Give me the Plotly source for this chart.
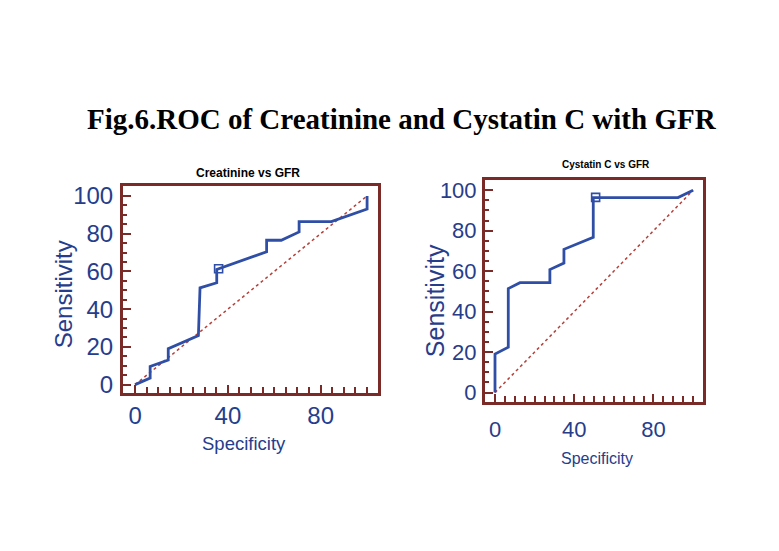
import plotly.graph_objects as go

# Creatinine vs GFR ROC curve
cr_x = [0, 6.5, 6.5, 14.3, 14.3, 27.3, 28, 35.2, 35.2, 56.7, 56.7, 63, 70.7, 70.7, 84.6, 100, 100]
cr_y = [0, 3.5, 9.6, 13, 19.1, 26, 51.3, 54, 61, 70.4, 76.5, 76.5, 80.9, 86.4, 86.4, 93, 100]
cr_opt_x = [36]
cr_opt_y = [61.4]

# Cystatin C vs GFR ROC curve
cy_x = [0, 0, 6.7, 6.7, 12.6, 27.7, 27.7, 34.8, 34.8, 49.6, 49.6, 92.4, 100]
cy_y = [0, 19, 22.4, 51.4, 54.3, 54.3, 60.8, 64, 70.8, 76.7, 96.4, 96.4, 100]
cy_opt_x = [50.8]
cy_opt_y = [96.5]

diag = [0, 100]
x_ticks = [0, 40, 80]
y_ticks = [0, 20, 40, 60, 80, 100]

BLUE = "#2f4ea6"
TXT = "#263d8c"
FRAME = "#7a2a27"
DIAG = "#b5403a"
OFF = 8               # page body margin
W, H = 779 - OFF, 551 - OFF

fig = go.Figure()
for xs, ys, ox, oy, xa, ya in [(cr_x, cr_y, cr_opt_x, cr_opt_y, "x", "y"),
                               (cy_x, cy_y, cy_opt_x, cy_opt_y, "x2", "y2")]:
    fig.add_trace(go.Scatter(x=diag, y=diag, mode="lines", xaxis=xa, yaxis=ya,
                             line=dict(color=DIAG, width=1.5, dash="dot"), showlegend=False))
    fig.add_trace(go.Scatter(x=xs, y=ys, mode="lines", xaxis=xa, yaxis=ya,
                             line=dict(color=BLUE, width=2.8), showlegend=False))
    fig.add_trace(go.Scatter(x=ox, y=oy, mode="markers", xaxis=xa, yaxis=ya,
                             marker=dict(symbol="square-open", size=8, color=BLUE,
                                         line=dict(width=1.6, color=BLUE)), showlegend=False))

def px_x(p):
    return (p - OFF) / W

def px_y(p):
    return 1 - (p - OFF) / H

def ax(domain, rng, ticks, size, standoff, minor_len):
    return dict(domain=domain, range=rng, tickvals=ticks, ticks="inside", ticklen=8,
                tickcolor=FRAME, tickwidth=1.5, showline=True, linecolor=FRAME, linewidth=3,
                mirror=True, showgrid=False, zeroline=False,
                tickfont=dict(family="Liberation Sans, Arial", size=size, color=TXT),
                ticklabelstandoff=standoff,
                minor=dict(dtick=5, ticks="inside", ticklen=minor_len, tickcolor=FRAME, tickwidth=1.5))

fig.update_layout(
    width=W, height=H, autosize=False,
    margin=dict(l=0, r=0, t=0, b=0),
    paper_bgcolor="white", plot_bgcolor="white",
    xaxis=ax([px_x(123), px_x(378)], [-5.2, 104.7], x_ticks, 24, 0, 6),
    yaxis=ax([px_y(395), px_y(185)], [-4.2, 105.2], y_ticks, 24, 2, 4),
    xaxis2=ax([px_x(485), px_x(703)], [-5.05, 105], x_ticks, 22, 5, 6),
    yaxis2=ax([px_y(405), px_y(179)], [-4.9, 105], y_ticks, 22, 1, 4),
)
fig.update_layout(yaxis2=dict(anchor="x2"), xaxis2=dict(anchor="y2"))

anns = [
    dict(text="<b>Fig.6.ROC of Creatinine and Cystatin C with GFR</b>", x=402, y=117,
         font=dict(family="Liberation Serif, Times New Roman", size=29, color="black")),
    dict(text="<b>Creatinine vs GFR</b>", x=248, y=172,
         font=dict(family="Liberation Sans, Arial", size=12, color="black")),
    dict(text="<b>Cystatin C vs GFR</b>", x=606, y=163,
         font=dict(family="Liberation Sans, Arial", size=10, color="black")),
    dict(text="Specificity", x=244, y=447,
         font=dict(family="Liberation Sans, Arial", size=18.5, color=TXT)),
    dict(text="Specificity", x=597, y=462,
         font=dict(family="Liberation Sans, Arial", size=16, color=TXT)),
    dict(text="Sensitivity", x=63, y=295, textangle=-90,
         font=dict(family="Liberation Sans, Arial", size=24, color=TXT)),
    dict(text="Sensitivity", x=435, y=302, textangle=-90,
         font=dict(family="Liberation Sans, Arial", size=25, color=TXT)),
]
for a in anns:
    a["x"] = px_x(a["x"])
    a["y"] = px_y(a["y"])
    fig.add_annotation(xref="paper", yref="paper", showarrow=False,
                       xanchor="center", yanchor="middle", **a)

fig.write_html("out.html")
